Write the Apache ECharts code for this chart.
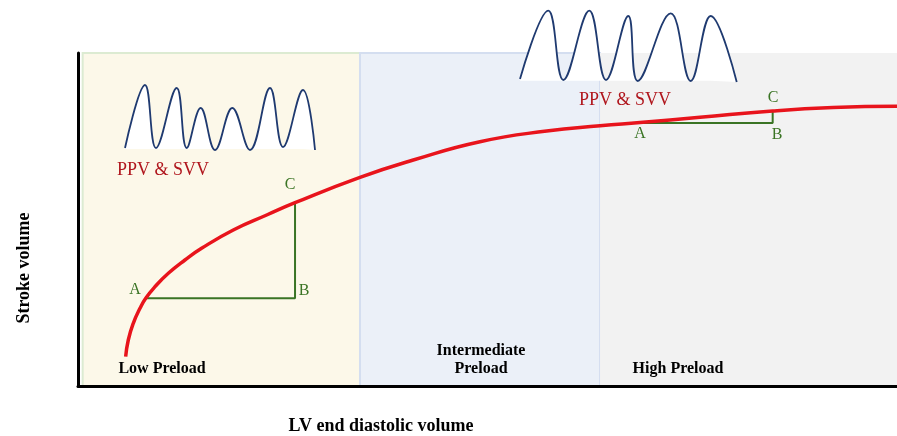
<!DOCTYPE html>
<html>
<head>
<meta charset="utf-8">
<script src="https://cdn.jsdelivr.net/npm/echarts@6/dist/echarts.min.js"></script>
<style>html,body{margin:0;padding:0;background:#fff}#c{width:897px;height:436px}</style>
</head>
<body>
<div id="c"></div>
<script>
// Frank-Starling curve (LV end diastolic volume vs stroke volume), arbitrary units 0-100
const curveX = [5.82, 6.14, 6.75, 7.57, 8.27, 9.4, 11.03, 13.06, 15.09, 18.96, 23.04, 26.5, 34.43, 40.94, 49.08, 57.23, 63.74, 68.62, 75.95, 84.82, 92.19, 100];
const curveY = [8.8, 13.81, 18.83, 23.33, 26.34, 29.82, 33.84, 37.84, 41.35, 46.85, 51.35, 55.05, 62.67, 67.87, 73.36, 76.58, 78.14, 79.13, 80.69, 82.58, 83.6, 83.99];

// Preload zones [from, to]
const zoneNames = ['Low Preload', 'Intermediate\nPreload', 'High Preload'];
const zoneFrom = [0.57, 34.43, 63.74];
const zoneTo = [34.43, 63.74, 100];
const zoneLabelX = [10.26, 49.21, 73.26];
const zoneLabelY = [5.11, 7.81, 5.11];

// A-B-C triangles (low and high preload)
const lowTriX = [8.27, 26.5, 26.5];
const lowTriY = [26.34, 26.34, 55.05];
const highTriX = [68.62, 84.82, 84.82];
const highTriY = [78.98, 78.98, 82.7];

// Pressure waveforms (respiratory variation)
const lowWaveX = [5.74, 8.18, 9.52, 12.05, 13.27, 14.98, 16.73, 18.84, 21.0, 23.44, 25.03, 27.47, 28.94];
const lowWaveY = [71.47, 90.39, 71.47, 89.49, 71.47, 83.48, 70.87, 83.48, 70.87, 89.49, 71.77, 88.89, 70.87];
const lowWaveBase = 71.2;
const highWaveX = [53.97, 57.42, 59.26, 62.43, 64.47, 67.19, 68.34, 72.37, 74.81, 77.25, 80.43];
const highWaveY = [92.19, 112.7, 91.89, 112.7, 91.89, 111.11, 91.59, 111.92, 91.59, 111.11, 91.29];
const highWaveBase = 91.7;

// Annotations
const ppvText = ['PPV & SVV', 'PPV & SVV'];
const ppvX = [10.38, 66.79];
const ppvY = [64.86, 85.74];
const letterText = ['A', 'B', 'C', 'A', 'B', 'C'];
const letterX = [6.96, 27.59, 25.89, 68.62, 85.35, 84.86];
const letterY = [28.83, 28.53, 60.36, 75.68, 75.38, 86.49];

const zip = (xs, ys) => xs.map((x, i) => [x, ys[i]]);
const serif = '"Liberation Serif", "DejaVu Serif", serif';
const green = '#3a7424';
const red = '#e8141c';
const navy = '#1f3a70';
const zoneStyles = [
  { color: '#fcf8e9', borderColor: '#dcebd2', borderWidth: 2 },
  { color: '#ebf0f8', borderColor: '#d4def0', borderWidth: 2 },
  { color: '#f2f2f2', borderColor: '#f2f2f2', borderWidth: 0 }
];

function textSeries(xs, ys, texts, style, z) {
  return {
    type: 'scatter', z: z, symbolSize: 1, silent: true,
    itemStyle: { color: 'rgba(0,0,0,0)', opacity: 1 },
    data: xs.map((x, i) => ({
      value: [x, ys[i]],
      label: Object.assign({ show: true, position: 'inside', formatter: texts[i] }, style)
    }))
  };
}

const chart = echarts.init(document.getElementById('c'), null, { renderer: 'canvas' });
chart.setOption({
  animation: false,
  backgroundColor: '#ffffff',
  grid: { left: 78, right: 0, top: 53, bottom: 50 },
  xAxis: {
    type: 'value', min: 0, max: 100, z: 10,
    axisLine: { show: true, onZero: false, lineStyle: { color: '#000', width: 3 } },
    axisTick: { show: false }, axisLabel: { show: false }, splitLine: { show: false }
  },
  yAxis: {
    type: 'value', min: 0, max: 100, z: 10,
    axisLine: { show: true, onZero: false, lineStyle: { color: '#000', width: 3 } },
    axisTick: { show: false }, axisLabel: { show: false }, splitLine: { show: false }
  },
  graphic: [
    { type: 'text', x: 24, y: 268, rotation: Math.PI / 2,
      style: { text: 'Stroke volume', font: 'bold 18px ' + serif, fill: '#000', textAlign: 'center', textVerticalAlign: 'middle' } },
    { type: 'text', x: 381, y: 426,
      style: { text: 'LV end diastolic volume', font: 'bold 18px ' + serif, fill: '#000', textAlign: 'center', textVerticalAlign: 'middle' } }
  ],
  series: [
    {
      type: 'line', z: 1, data: [], silent: true,
      markArea: {
        silent: true,
        data: zoneFrom.map((f, i) => [
          { xAxis: f, yAxis: 0, itemStyle: zoneStyles[i] },
          { xAxis: zoneTo[i], yAxis: 100 }
        ])
      }
    },
    {
      type: 'line', z: 3, clip: false, smooth: 0.4, symbol: 'none', silent: true,
      data: zip(lowWaveX, lowWaveY),
      lineStyle: { color: navy, width: 1.8 },
      areaStyle: { color: '#ffffff', opacity: 1, origin: lowWaveBase }
    },
    {
      type: 'line', z: 3, clip: false, smooth: 0.4, symbol: 'none', silent: true,
      data: zip(highWaveX, highWaveY),
      lineStyle: { color: navy, width: 1.8 },
      areaStyle: { color: '#ffffff', opacity: 1, origin: highWaveBase }
    },
    {
      type: 'line', z: 4, symbol: 'none', silent: true,
      data: zip(lowTriX, lowTriY),
      lineStyle: { color: green, width: 2 }
    },
    {
      type: 'line', z: 4, symbol: 'none', silent: true,
      data: zip(highTriX, highTriY),
      lineStyle: { color: green, width: 2 }
    },
    {
      type: 'line', z: 5, smooth: 0.5, symbol: 'none', silent: true,
      data: zip(curveX, curveY),
      lineStyle: { color: red, width: 3.5 }
    },
    textSeries(zoneLabelX, zoneLabelY, zoneNames,
      { color: '#000', fontFamily: serif, fontWeight: 'bold', fontSize: 16, lineHeight: 18, align: 'center' }, 6),
    textSeries(ppvX, ppvY, ppvText,
      { color: '#b0161d', fontFamily: serif, fontSize: 18 }, 6),
    textSeries(letterX, letterY, letterText,
      { color: green, fontFamily: serif, fontSize: 16 }, 6)
  ]
});
</script>
</body>
</html>
